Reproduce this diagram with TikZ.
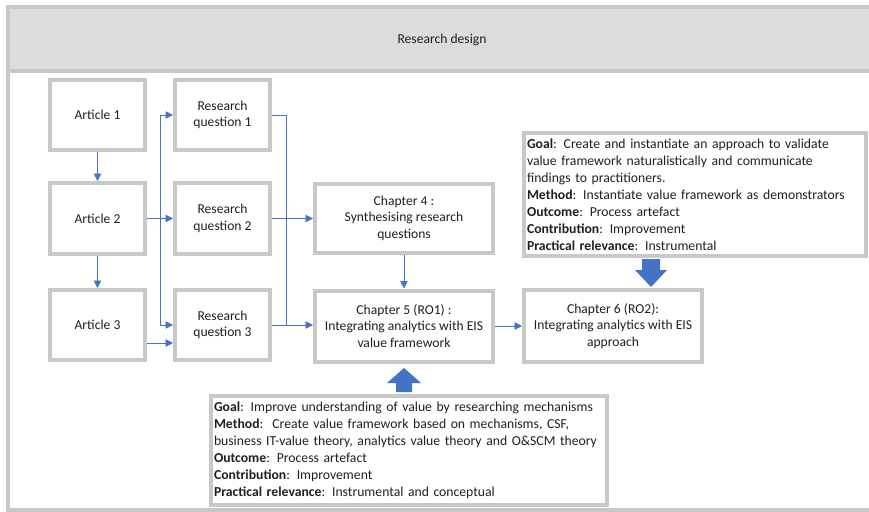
\documentclass[tikz,border=0pt]{standalone}
\usepackage{fontspec}
\setmainfont{Carlito}
\usetikzlibrary{arrows.meta}
\definecolor{framegray}{HTML}{C8C8C8}
\definecolor{headfill}{HTML}{DCDCDC}
\definecolor{linkblue}{HTML}{4472C4}
\definecolor{inkgray}{HTML}{202020}
\tikzset{
  stepbox/.style={draw=framegray, line width=4pt, fill=white, rectangle,
    align=center, text=inkgray, inner sep=2pt,
    font=\fontsize{13.6}{16.5}\selectfont},
  infobox/.style={draw=framegray, line width=4pt, fill=white, rectangle,
    align=left, text=inkgray, anchor=north west, inner xsep=3pt, inner ysep=2pt,
    font=\fontsize{13.7}{17}\selectfont},
  conn/.style={draw=linkblue, line width=0.9pt,
    -{Triangle[length=7.5pt,width=7.5pt]}},
  plain/.style={draw=linkblue, line width=0.9pt},
  blockarrow/.style={fill=linkblue, draw=none},
}
\begin{document}
\begin{tikzpicture}[x=1pt, y=-1pt]
\useasboundingbox (0,0) rectangle (869,511);

% outer frame and header band
\draw[framegray, line width=4pt] (8,7) rectangle (885,510);
\draw[framegray, line width=4pt, fill=headfill] (8,7) rectangle (885,71);
\node[text=inkgray, font=\fontsize{13.6}{16}\selectfont] (title) at (442,40) {Research design};

% articles
\node[stepbox, minimum width=95pt, minimum height=70pt] (a1) at (97.5,115) {Article 1};
\node[stepbox, minimum width=95pt, minimum height=71pt] (a2) at (97.5,218.5) {Article 2};
\node[stepbox, minimum width=95pt, minimum height=70pt] (a3) at (97.5,325) {Article 3};

% research questions
\node[stepbox, minimum width=95pt, minimum height=70pt] (rq1) at (222.5,115) {Research\\question 1};
\node[stepbox, minimum width=95pt, minimum height=71pt] (rq2) at (222.5,218.5) {Research\\question 2};
\node[stepbox, minimum width=95pt, minimum height=70pt] (rq3) at (222.5,325) {Research\\question 3};

% chapters
\node[stepbox, minimum width=178pt, minimum height=69pt] (ch4) at (404,218) {Chapter 4 :\\Synthesising research\\questions};
\node[stepbox, minimum width=178pt, minimum height=71pt] (ch5) at (404,326) {Chapter 5 (RO1) :\\Integrating analytics with EIS\\value framework};
\node[stepbox, minimum width=178pt, minimum height=72pt] (ch6) at (613,326) {Chapter 6 (RO2):\\Integrating analytics with EIS\\approach};

% goal descriptions
\node[infobox, text width=336pt, minimum height=123pt] (goal2) at (522,131) {%
\textbf{Goal}: Create and instantiate an approach to validate\\
value framework naturalistically and communicate\\
findings to practitioners.\\
\textbf{Method}: Instantiate value framework as demonstrators\\
\textbf{Outcome}: Process artefact\\
\textbf{Contribution}: Improvement\\
\textbf{Practical relevance}: Instrumental};

\node[infobox, text width=390pt, minimum height=109pt] (goal1) at (209,394) {%
\textbf{Goal}: Improve understanding of value by researching mechanisms\\
\textbf{Method}:\ \ Create value framework based on mechanisms, CSF,\\
business IT-value theory, analytics value theory and O\&SCM theory\\
\textbf{Outcome}: Process artefact\\
\textbf{Contribution}: Improvement\\
\textbf{Practical relevance}: Instrumental and conceptual};

% junction points of the elbow connectors
\coordinate (j1) at (160,218.5);
\coordinate (j2) at (286,325);

% connectors
\draw[conn] (a1.south) -- (a2.north);
\draw[conn] (a2.south) -- (a3.north);
\draw[conn] (a2.east) -- (rq2.west);
\draw[conn] (j1) |- (rq1.west);
\draw[conn] (j1) |- (rq3.west);
\draw[conn] ([yshift=-18pt]a3.east) -- ([yshift=-18pt]rq3.west);
\draw[plain] (rq1.east) -| (j2);
\draw[conn] (rq2.east) -- (rq2.east -| ch4.west);
\draw[conn] (rq3.east) -- (rq3.east -| ch5.west);
\draw[conn] (ch4.south) -- (ch5.north);
\draw[conn] (ch5.east) -- (ch6.west);

% block arrows from the goal boxes
\fill[blockarrow] (goal2.south -| ch6.east) ++(-53pt,0) coordinate (da)
  ++(-9pt,-1pt) -- ++(18pt,0) -- ++(0,-11pt) -- ++(7pt,0) -- ++(-16pt,-17pt)
  -- ++(-16pt,17pt) -- ++(7pt,0) -- cycle;
\fill[blockarrow] (goal1.north -| ch5.south) ++(0,2pt) coordinate (ua)
  ++(-8pt,0) -- ++(16pt,0) -- ++(0,9pt) -- ++(9pt,0) -- ++(-17pt,15pt)
  -- ++(-17pt,-15pt) -- ++(9pt,0) -- cycle;
\end{tikzpicture}
\end{document}
